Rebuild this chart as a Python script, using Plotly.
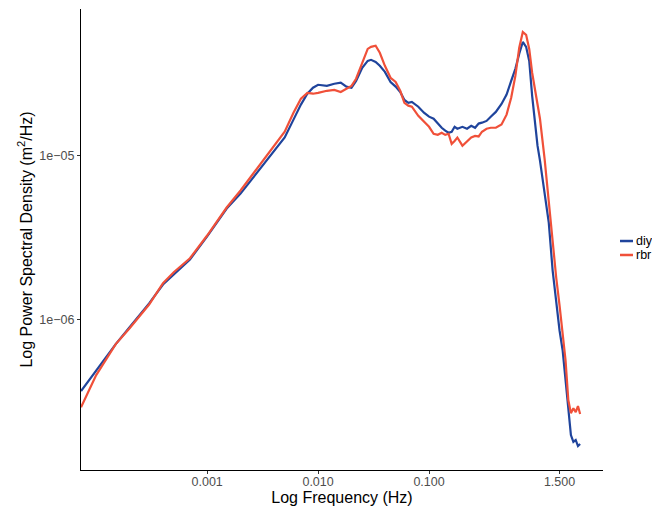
import plotly.graph_objects as go

freq_hz = [7.3e-5, 1e-4, 1.5e-4, 2e-4, 3e-4, 4e-4, 5e-4, 7e-4,
           1e-3, 1.5e-3, 2e-3, 3e-3, 4e-3, 5e-3, 6e-3, 7e-3, 8e-3, 9e-3,
           0.010, 0.012, 0.014, 0.016, 0.018, 0.020, 0.022, 0.025, 0.028, 0.030,
           0.033, 0.036, 0.040, 0.045, 0.050, 0.055, 0.060, 0.065, 0.070, 0.080, 0.090,
           0.10, 0.11, 0.12, 0.13, 0.14, 0.15, 0.16, 0.17, 0.18,
           0.20, 0.22, 0.24, 0.26, 0.28, 0.30, 0.33, 0.36, 0.40, 0.45, 0.50,
           0.55, 0.60, 0.65, 0.70, 0.75, 0.80, 0.85, 0.90, 0.95,
           1.0, 1.1, 1.2, 1.3, 1.4, 1.5, 1.6, 1.7, 1.8, 1.9, 2.0, 2.1, 2.2, 2.3]

psd_diy = [3.64e-7, 4.89e-7, 7.05e-7, 8.93e-7, 1.25e-6, 1.63e-6, 1.88e-6, 2.32e-6,
           3.21e-6, 4.75e-6, 5.86e-6, 8.34e-6, 1.06e-5, 1.29e-5, 1.66e-5, 2.05e-5, 2.39e-5, 2.60e-5,
           2.71e-5, 2.67e-5, 2.75e-5, 2.79e-5, 2.64e-5, 2.60e-5, 2.86e-5, 3.44e-5, 3.79e-5, 3.85e-5,
           3.74e-5, 3.54e-5, 3.25e-5, 2.82e-5, 2.64e-5, 2.45e-5, 2.19e-5, 2.10e-5, 2.13e-5, 1.99e-5, 1.83e-5,
           1.73e-5, 1.68e-5, 1.57e-5, 1.48e-5, 1.42e-5, 1.38e-5, 1.40e-5, 1.50e-5, 1.46e-5,
           1.50e-5, 1.46e-5, 1.52e-5, 1.48e-5, 1.57e-5, 1.59e-5, 1.63e-5, 1.73e-5, 1.85e-5, 2.07e-5, 2.36e-5,
           2.86e-5, 3.39e-5, 4.19e-5, 4.95e-5, 4.62e-5, 3.79e-5, 2.32e-5, 1.63e-5, 1.15e-5,
           9.33e-6, 5.70e-6, 3.90e-6, 1.99e-6, 1.25e-6, 8.57e-7, 6.47e-7, 4.25e-7, 2.60e-7, 1.96e-7,
           1.78e-7, 1.83e-7, 1.68e-7, 1.73e-7]

psd_rbr = [2.90e-7, 4.56e-7, 7.05e-7, 8.81e-7, 1.23e-6, 1.66e-6, 1.94e-6, 2.36e-6,
           3.25e-6, 4.82e-6, 6.12e-6, 8.81e-6, 1.14e-5, 1.40e-5, 1.83e-5, 2.23e-5, 2.42e-5, 2.39e-5,
           2.42e-5, 2.49e-5, 2.52e-5, 2.45e-5, 2.56e-5, 2.67e-5, 2.95e-5, 3.69e-5, 4.49e-5, 4.62e-5,
           4.69e-5, 4.25e-5, 3.54e-5, 2.99e-5, 2.82e-5, 2.49e-5, 2.10e-5, 2.02e-5, 1.99e-5, 1.75e-5, 1.61e-5,
           1.50e-5, 1.36e-5, 1.34e-5, 1.38e-5, 1.34e-5, 1.36e-5, 1.18e-5, 1.23e-5, 1.29e-5,
           1.15e-5, 1.23e-5, 1.29e-5, 1.32e-5, 1.31e-5, 1.40e-5, 1.46e-5, 1.48e-5, 1.48e-5, 1.55e-5, 1.78e-5,
           2.26e-5, 3.07e-5, 4.56e-5, 5.70e-5, 5.47e-5, 4.49e-5, 3.21e-5, 2.56e-5, 2.07e-5,
           1.68e-5, 9.59e-6, 5.32e-6, 2.82e-6, 1.80e-6, 1.22e-6, 7.98e-7, 5.62e-7, 3.21e-7, 2.67e-7,
           2.86e-7, 2.71e-7, 2.95e-7, 2.64e-7]

series_names = ["diy", "rbr"]
series_colors = ["#1F449C", "#F05039"]

x_tick_vals = [0.001, 0.01, 0.1, 1.5]
x_tick_text = ["0.001", "0.010", "0.100", "1.500"]
y_tick_vals = [1e-6, 1e-5]
y_tick_text = ["1e\u221206", "1e\u221205"]

FONT = "Liberation Sans, Arial, Helvetica, sans-serif"

fig = go.Figure()
for name, ys, col in zip(series_names, [psd_diy, psd_rbr], series_colors):
    fig.add_trace(go.Scatter(x=freq_hz, y=ys, mode="lines", name=name,
                             line=dict(color=col, width=2.2), showlegend=False))

# page body has an 8px margin, so the figure is 8px smaller and margins shifted
fig.update_layout(
    width=652, height=498,
    margin=dict(l=73, r=57, t=1, b=36, autoexpand=False),
    paper_bgcolor="white", plot_bgcolor="white",
    font=dict(family=FONT, color="#000000"),
    xaxis=dict(type="log", range=[-4.137, 0.568], showgrid=False, zeroline=False,
               showline=True, linecolor="#000000", linewidth=1.2,
               tickmode="array", tickvals=x_tick_vals, ticktext=x_tick_text,
               ticks="outside", ticklen=3, tickcolor="#333333", tickwidth=1,
               ticklabelstandoff=-3,
               tickfont=dict(size=12.5, color="#4d4d4d", family=FONT),
               title=dict(text="Log Frequency (Hz)", font=dict(size=16, color="#000000"), standoff=0)),
    yaxis=dict(type="log", range=[-6.921, -4.104], showgrid=False, zeroline=False,
               showline=True, linecolor="#000000", linewidth=1.2,
               tickmode="array", tickvals=y_tick_vals, ticktext=y_tick_text,
               ticks="outside", ticklen=3, tickcolor="#333333", tickwidth=1,
               tickfont=dict(size=12.5, color="#4d4d4d", family=FONT),
               title=dict(text="Log Power Spectral Density (m<sup>2</sup>/Hz)",
                          font=dict(size=16, color="#000000"), standoff=2)),
)

# manual legend (ggplot style: short key lines on the right)
legend_y = [0.4967, 0.4664]
for name, col, yy in zip(series_names, series_colors, legend_y):
    fig.add_shape(type="line", xref="paper", yref="paper",
                  x0=1.0326, x1=1.0575, y0=yy, y1=yy,
                  line=dict(color=col, width=2.5))
    fig.add_annotation(xref="paper", yref="paper", x=1.060, y=yy, text=name,
                       showarrow=False, xanchor="left", yanchor="middle",
                       font=dict(size=12.5, color="#000000", family=FONT))

fig.write_html("out.html")
